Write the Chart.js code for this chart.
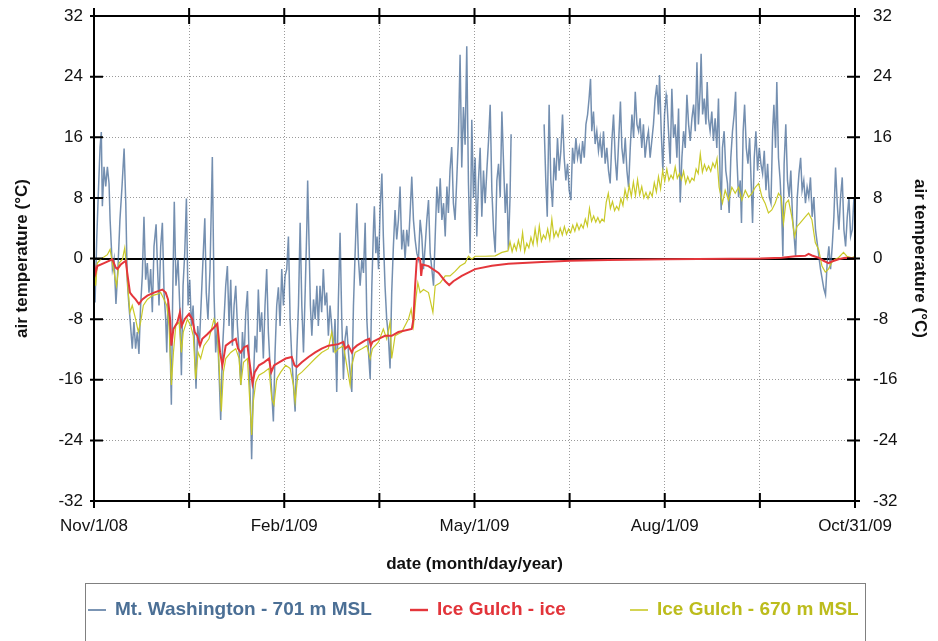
<!DOCTYPE html>
<html>
<head>
<meta charset="utf-8">
<script src="https://cdn.jsdelivr.net/npm/chart.js@4.4.1/dist/chart.umd.min.js"></script>
<style>
    html, body { margin: 0; padding: 0; background: #fff; }
</style>
</head>
<body>
<canvas id="canvas" width="938" height="641"></canvas>
<script>
Chart.defaults.font.family = '"Liberation Sans", Arial, sans-serif';
Chart.defaults.color = '#111';

// x positions are days since Nov/1/08
const tickDays = [0, 45.5, 91, 136.5, 182, 227.5, 273, 318.5, 364];
const tickLabels = ['Nov/1/08', '', 'Feb/1/09', '', 'May/1/09', '', 'Aug/1/09', '', 'Oct/31/09'];
const tempTicks = [-32, -24, -16, -8, 0, 8, 16, 24, 32];

// Mt. Washington - 701 m MSL (gap in late May / early June)
const washDays = [
    0.0, 0.5, 1.3, 1.9, 2.9, 3.5, 4.0, 4.8, 5.6, 6.4, 7.2, 7.7, 8.8, 9.6, 10.5, 11.5, 12.4, 13.4, 14.4, 15.2,
    15.9, 16.7, 17.5, 18.3, 19.1, 19.9, 20.7, 21.5, 22.3, 23.1, 23.9, 24.7, 25.5, 26.3, 27.1, 27.9, 28.7, 29.7, 30.3, 31.1,
    31.9, 32.7, 33.5, 34.3, 34.8, 35.4, 36.2, 37.0, 37.6, 38.4, 39.2, 40.2, 41.0, 41.8, 42.6, 43.4, 44.2, 45.0, 45.8, 46.6,
    47.4, 48.2, 48.8, 49.6, 50.4, 51.2, 52.0, 53.0, 53.7, 54.5, 55.5, 56.6, 57.4, 58.2, 59.0, 59.8, 60.6, 61.4, 62.2, 63.0,
    63.8, 64.6, 65.4, 66.2, 67.0, 67.8, 68.6, 69.4, 70.2, 71.0, 71.8, 72.6, 73.4, 74.2, 75.0, 75.4, 76.2, 77.0, 77.8, 78.6,
    79.4, 80.2, 81.0, 81.8, 82.6, 83.4, 84.2, 85.0, 85.8, 86.6, 87.4, 88.2, 89.0, 89.8, 90.6, 91.4,
    92.2, 93.0, 93.8, 94.6, 95.4, 96.2, 97.0, 97.8, 98.6, 99.4, 100.2, 101.0, 101.8, 102.2, 102.9, 103.5, 104.2, 105.0, 105.8, 106.6,
    107.3, 108.1, 108.9, 109.7, 110.5, 111.3, 112.1, 112.9, 113.7, 114.5, 115.3, 116.1, 116.9, 117.7, 118.5, 119.3, 120.1, 120.9, 121.7, 122.5,
    123.3, 124.1, 124.9, 125.7, 126.5, 127.3, 128.1, 128.9, 129.7, 130.5, 131.3, 132.1, 132.9, 133.7, 134.1, 134.8, 135.4, 136.1, 136.9, 137.7,
    138.4, 139.2, 140.0, 140.8, 141.6, 142.4, 143.2, 144.0, 144.8, 145.6, 146.4, 147.2, 148.0, 148.8, 149.6, 150.4, 151.2, 152.0, 152.8, 153.6,
    154.4, 155.2, 156.0, 156.8, 157.6, 158.4, 159.2, 160.0, 160.8, 161.6, 162.4, 163.2, 164.0, 164.8, 165.6, 166.4, 167.2, 168.0, 168.8, 169.5,
    170.3, 171.1, 171.9, 172.7, 173.5, 174.3, 175.1, 175.9, 176.7, 177.5, 178.3, 179.1, 179.9, 180.7, 181.5, 182.3,
    183.1, 183.9, 184.7, 185.5, 186.3, 187.1, 187.9, 188.7, 189.5, 190.3, 191.1, 191.9, 192.7, 193.5, 194.3, 195.1, 195.9, 196.7, 197.5, 198.2,
    199.0, 199.5, 207.0,
    215.3, 216.1, 216.8, 217.7, 218.5, 219.3, 220.1, 220.9, 221.7, 222.5, 223.3, 224.1, 224.9, 225.7, 226.5, 227.3, 228.1, 228.9, 229.7, 230.5,
    231.3, 232.1, 232.9, 233.7, 234.5, 235.3, 236.1, 236.8, 237.5, 238.1, 238.9, 239.7, 240.5, 241.3, 242.1, 242.9, 243.7, 244.5, 245.3, 246.1,
    246.9, 247.7, 248.5, 249.3, 250.1, 250.9, 251.8, 252.5, 253.3, 254.1, 254.9, 255.7, 256.5, 257.3, 258.1, 258.9, 259.7, 260.5, 261.2, 262.0,
    262.8, 263.6, 264.4, 265.2, 266.0, 266.8, 267.6, 268.4, 269.2, 270.0, 270.5, 271.3, 272.1, 272.9, 273.7,
    274.0, 274.8, 275.6, 276.4, 277.2, 278.0, 278.8, 279.6, 280.4, 281.2, 282.0, 282.8, 283.6, 284.4, 285.2, 286.0, 286.8, 287.6, 288.4, 289.1,
    289.9, 290.4, 291.1, 291.9, 292.7, 293.3, 293.9, 294.7, 295.5, 296.3, 297.1, 297.9, 298.7, 299.5, 300.0, 300.6, 301.4, 302.2, 303.0, 303.8,
    304.6, 305.4, 306.2, 306.9, 307.5, 308.3, 309.1, 309.7, 310.5, 311.2, 312.0, 312.8, 313.6, 314.3, 315.0, 315.8, 316.6, 317.4, 318.2, 319.0,
    319.8, 320.6, 321.4, 322.2, 323.0, 323.8, 324.6, 325.2, 326.0, 326.6, 327.4, 328.2, 329.0, 329.5, 330.1, 330.9, 331.7, 332.5, 333.3, 334.1,
    334.9, 335.6, 336.4, 337.2, 338.0, 338.7, 339.5, 340.3, 341.1, 341.9, 342.7, 343.5, 344.3, 345.1, 345.9, 346.7, 347.5, 348.3, 349.1, 349.9,
    350.7, 351.5, 352.3, 353.1, 353.9, 354.7, 355.5, 356.3, 357.1, 357.9, 358.7, 359.5, 360.3, 361.1, 361.9, 362.7, 363.5, 364.0
];
const washTemps = [
    -0.1, -5.8, 2.5, 7.3, 14.7, 16.7, 6.9, 12.1, 9.5, 12.1, 9.9, 5.1, -1.4, -0.1, -6.0, -1.0, 5.1, 9.5, 14.5, 7.3,
    -2.8, -6.2, -8.9, -11.9, -8.4, -11.9, -9.7, -12.6, -6.2, -2.3, 5.5, -2.8, -0.6, -4.5, -1.4, -7.1, 1.6, 4.5, -0.6, -6.2,
    1.6, 4.7, -4.5, -8.0, -12.4, -5.8, -8.9, -19.3, -5.8, 7.5, -3.6, -0.1, -6.2, -15.4, -3.6, 0.7, 7.9, -6.2, -2.8, -8.9,
    -6.2, -12.4, -17.2, -8.9, -11.5, -6.2, -1.0, 5.3, -4.5, -8.0, -1.4, 13.4, -4.5, -12.4, -8.9, -15.0, -21.3, -12.4, -8.0, -3.6,
    -1.0, -8.9, -2.8, -11.5, -6.2, -3.6, -8.9, -12.4, -16.7, -9.7, -13.2, -7.1, -4.3, -13.2, -21.1, -26.5, -16.7, -10.2, -12.4, -4.1,
    -9.7, -7.1, -13.2, -6.2, -1.4, -9.7, -14.1, -17.6, -21.5, -12.4, -6.2, -3.8, -8.9, -1.4, -6.2, -2.3,
    -1.4, 2.9, -8.0, -13.2, -16.7, -20.2, -12.4, -6.2, 4.7, -6.2, -12.4, -4.5, 4.2, 10.3, 1.6, -6.2, -10.2, -5.4, -8.0, -3.6,
    -8.9, -3.6, -7.1, -1.4, -6.2, -4.5, -10.2, -6.2, -8.9, -12.4, -8.0, -17.6, -5.4, 3.4, -8.0, -15.9, -10.6, -8.9, -12.4, -15.0,
    -17.6, -6.2, 0.7, 7.3, -0.1, -3.6, -0.1, -1.9, 4.7, -8.0, -12.4, -15.9, -3.6, 4.2, 6.9, 0.7, 2.9, -1.4, 6.9, 11.2,
    2.9, -3.6, -8.0, -10.2, -14.5, -4.5, 1.6, 6.4, 2.5, 5.1, 9.5, 1.2, 3.8, -0.1, 3.8, 1.6, 6.0, 10.8, 5.1, 2.5,
    0.7, -0.1, 5.1, 2.9, -1.4, 1.6, 5.1, 7.7, 0.7, -1.4, -3.6, 2.9, 9.5, 6.0, 10.6, 5.1, 7.3, 2.9, 9.5, 6.0,
    11.7, 14.7, 7.3, 5.1, 10.3, 16.0, 26.9, 12.0, 20.0, 15.0, 28.0, 10.0, 0.7, 18.3, 8.0, 13.3,
    2.9, 10.3, 14.6, 5.5, 11.6, 7.3, 11.6, 15.5, 20.3, 9.0, 3.8, 0.8, 10.3, 12.5, 8.1, 19.4, 12.5, 6.0, 9.9, 1.2,
    8.1, 16.4, null,
    17.7, 10.3, 5.5, 20.3, 10.3, 6.8, 13.3, 10.3, 15.9, 11.6, 14.2, 19.0, 13.3, 10.3, 12.5, 9.0, 7.7, 14.6, 12.5, 15.9,
    13.3, 14.6, 12.5, 15.5, 13.3, 17.7, 19.0, 21.1, 23.7, 16.8, 19.4, 15.1, 16.8, 14.2, 15.9, 13.3, 16.8, 12.5, 14.6, 11.6,
    9.9, 15.5, 19.0, 13.3, 10.3, 15.1, 20.7, 14.6, 12.5, 15.9, 11.6, 9.4, 14.6, 19.0, 15.9, 22.0, 17.7, 16.8, 18.5, 14.6,
    17.7, 13.3, 15.5, 16.8, 13.3, 15.5, 17.7, 21.1, 22.9, 19.0, 24.2, 16.8, 11.6, 19.0, 21.6,
    21.1, 16.8, 12.5, 22.4, 15.9, 17.7, 13.3, 19.8, 7.4, 13.3, 16.8, 14.6, 21.6, 17.7, 15.5, 18.5, 20.3, 16.8, 25.9, 17.7,
    22.0, 27.0, 19.0, 21.1, 17.7, 23.3, 18.5, 16.8, 19.4, 15.5, 18.5, 14.6, 21.1, 10.3, 6.4, 14.6, 16.8, 11.6, 9.9, 6.0,
    13.3, 16.8, 19.0, 22.0, 13.3, 8.1, 10.3, 4.7, 16.8, 20.3, 14.6, 12.5, 15.9, 10.3, 4.7, 13.3, 16.8, 11.6, 14.6, 12.5,
    11.2, 14.2, 9.0, 12.5, 8.1, 7.3, 16.8, 20.3, 14.6, 23.3, 13.3, 10.3, 5.5, 0.3, 12.5, 17.7, 10.3, 8.1, 11.6, 5.5,
    2.9, 0.3, 8.1, 11.2, 13.3, 9.0, 10.3, 7.3, 9.4, 8.1, 10.7, 5.5, 8.1, 3.8, 2.1, 0.3, -1.4, -2.7, -4.0, -4.8,
    -0.5, 1.6, -1.4, 1.6, 5.5, 12.0, 7.3, 3.8, 8.1, 10.7, 3.8, 1.6, 5.5, 8.1, 2.9, 3.8, 8.1, 5.5
];

// Ice Gulch - ice
const iceDays = [
    0, 0.8, 1.6, 4.8, 8.8, 10.4, 11.2, 12.8, 15.2, 15.9, 17.2, 18.3, 19.9, 21.5, 23.1, 25.5, 28.7, 32.7, 34.3, 35.4,
    36.4, 37.0, 38.0, 39.9, 41.1, 41.9, 43.4, 45.5, 47.0, 48.2, 49.4, 50.7, 51.8, 54.2, 57.4, 59.0, 60.3, 61.4, 63.0, 65.4,
    67.8, 68.9, 70.2, 71.8, 73.4, 74.6, 75.8, 76.9, 78.9, 81.3, 83.7, 84.8, 86.1, 88.5, 91.7, 94.6, 95.9, 97.0, 99.4, 102.6,
    105.8, 108.9, 112.1, 116.9, 119.3, 120.1, 121.7, 123.3, 124.1, 125.7, 129.7, 131.6, 132.4, 133.2, 136.1, 139.2, 142.4, 145.6, 152.0, 152.8,
    153.6, 154.4, 155.2, 156.0, 156.5, 157.1, 160.0, 164.8, 168.0, 169.9, 171.9, 175.9, 182.3, 190.3, 198.2, 214.2, 227.8, 246.1, 274.0, 318.7,
    329.0, 335.4, 340.2, 341.8, 343.4, 346.6, 349.0, 351.3, 352.9, 356.1, 359.3, 364
];
const iceTemps = [
    -0.6, -1.9, -1.0, -0.6, -0.1, -1.2, -1.4, -0.8, -0.3, -1.9, -4.5, -4.9, -5.4, -6.0, -5.4, -4.9, -4.5, -4.1, -4.5, -5.4,
    -8.0, -11.5, -9.3, -8.4, -7.1, -8.9, -8.0, -7.3, -8.0, -9.7, -10.2, -11.5, -10.6, -10.0, -9.1, -8.6, -12.4, -14.1, -11.5, -11.0,
    -10.6, -11.9, -12.4, -11.7, -11.5, -14.1, -16.5, -15.0, -14.1, -13.7, -13.2, -15.0, -14.1, -13.7, -13.2, -13.0, -14.1, -14.3, -13.7, -13.0,
    -12.4, -11.9, -11.5, -11.3, -11.0, -11.9, -11.5, -12.4, -11.9, -11.5, -10.8, -10.6, -11.5, -11.0, -10.6, -10.2, -10.2, -9.7, -9.3, -8.0,
    -3.6, -0.1, 0.1, -0.1, -2.3, -0.8, -1.0, -1.9, -3.0, -3.5, -3.0, -2.3, -1.4, -0.95, -0.7, -0.45, -0.3, -0.2, -0.1, 0,
    0.1, 0.3, 0.35, 0.6, 0.4, 0.1, -0.3, -0.6, -0.4, -0.1, 0.1, 0
];

// Ice Gulch - 670 m MSL
const gulchDays = [
    0, 0.8, 1.6, 3.2, 6.4, 7.7, 8.8, 9.9, 10.8, 12.0, 13.6, 14.7, 15.5, 16.4, 17.2, 18.3, 19.9, 21.2, 22.3, 23.6,
    25.5, 27.9, 30.3, 31.9, 33.5, 34.8, 35.9, 37.0, 38.0, 39.1, 40.7, 41.8, 42.7, 44.7, 46.3, 47.5, 48.6, 49.8, 51.0, 52.6,
    55.0, 57.4, 59.0, 60.3, 60.9, 61.9, 63.0, 65.4, 67.8, 69.4, 70.2, 71.5, 73.4, 74.6, 75.4, 76.2, 77.4, 78.9, 81.3, 83.7,
    85.0, 86.1, 87.4, 89.3, 91.7,
    93.8, 95.4, 96.2, 97.5, 99.4, 102.6, 105.8, 108.9, 112.1, 113.7, 115.3, 116.9, 119.3, 120.9, 122.5, 123.3, 124.9, 128.1, 130.5, 132.1,
    133.2, 136.1, 138.4, 140.0, 141.6, 142.4, 144.0, 147.2, 150.4, 151.7, 152.8, 153.9, 154.9, 156.0, 157.6, 160.0, 162.1, 163.2, 165.6, 168.0,
    170.3, 172.7, 175.1, 177.5, 179.1, 180.7, 182.3,
    187.1, 191.9, 195.1,
    198, 199, 200, 201, 202, 203, 204, 205, 206, 207, 208, 209, 210, 211, 212, 213, 214, 215, 216, 217,
    218, 219, 220, 221, 222, 223, 224, 225, 226, 227, 228, 229, 230, 231, 232, 233, 234, 235, 236, 237,
    238, 239, 240, 241, 242, 243, 244, 245, 246, 247, 248, 249, 250, 251, 252, 253, 254, 255, 256, 257,
    258, 259, 260, 261, 262, 263, 264, 265, 266, 267, 268, 269, 270, 271, 272, 273, 274, 275, 276, 277,
    278, 279, 280, 281, 282, 283, 284, 285, 286, 287, 288, 289, 290, 291, 292, 293, 294, 295, 296, 297,
    298, 299,
    300.6, 301.9, 303.5, 305.1, 306.7, 308.3, 309.9, 311.5, 313.1, 314.7, 316.3, 317.9, 319.5, 321.0, 322.6, 324.2, 325.8, 327.4, 328.7, 329.8,
    330.9, 332.2, 333.8, 335.1, 336.2, 337.8, 340.2, 341.8, 343.4, 345.0, 346.6, 348.2, 349.8, 351.3, 352.9, 354.5, 356.1, 358.5, 360.1, 362.5,
    364
];
const gulchTemps = [
    -1.0, -3.6, -0.6, -0.1, 0.5, 1.2, -0.6, -2.3, -3.6, -0.6, -0.1, 1.4, -1.0, -4.5, -7.1, -6.2, -8.0, -9.7, -8.4, -6.2,
    -5.4, -4.9, -4.7, -4.5, -5.4, -6.2, -8.9, -16.7, -12.4, -8.9, -8.4, -12.4, -9.7, -8.0, -8.9, -10.2, -15.9, -12.4, -13.2, -11.5,
    -10.6, -8.0, -9.3, -16.7, -20.2, -15.0, -13.2, -12.4, -11.9, -13.2, -16.7, -13.7, -13.2, -19.3, -23.3, -18.9, -16.3, -15.4, -15.0, -14.5,
    -18.5, -19.3, -15.9, -15.0, -14.1,
    -14.5, -16.7, -18.9, -15.4, -15.0, -14.1, -13.2, -12.4, -11.9, -9.7, -12.4, -11.9, -11.5, -14.1, -16.7, -14.1, -12.4, -11.9, -11.5, -13.2,
    -11.9, -11.0, -9.3, -10.6, -8.4, -13.2, -10.2, -9.7, -8.0, -6.7, -8.9, -5.4, -3.2, -4.5, -4.1, -4.5, -7.1, -3.6, -3.2, -2.3,
    -2.3, -1.7, -1.0, -0.6, 0.3, -0.1, 0.3,
    0.3, 0.35, 0.8,
    1.0, 2.2, 0.9, 1.9, 1.1, 2.4, 1.2, 3.4, 0.9, 2.0, 1.4, 2.8, 1.8, 3.9, 2.0, 4.3, 2.3, 3.1, 2.6, 3.9,
    2.5, 5.2, 2.8, 3.6, 2.9, 4.0, 3.1, 4.2, 3.2, 3.9, 3.4, 4.4, 3.6, 4.6, 3.8, 4.5, 4.0, 5.2, 4.3, 6.6,
    4.9, 5.6, 4.8, 5.4, 4.7, 5.2, 4.9, 7.4, 8.6, 6.6, 7.5, 6.3, 6.9, 6.4, 7.9, 7.0, 9.1, 7.9, 9.6, 8.2,
    10.1, 8.3, 10.4, 8.4, 9.5, 8.0, 8.7, 7.9, 8.8, 8.2, 10.0, 8.8, 10.8, 9.2, 11.6, 10.2, 11.8, 10.3, 11.0, 10.5,
    12.1, 10.6, 11.2, 10.4, 11.5, 9.9, 10.8, 10.0, 10.6, 10.3, 11.8, 11.2, 13.8, 11.4, 12.4, 11.6, 12.2, 11.5, 12.6, 12.0,
    13.2, 9.4,
    7.3, 9.0, 7.7, 9.4, 8.6, 9.4, 7.7, 9.0, 8.1, 8.6, 9.4, 9.9, 8.1, 7.3, 6.0, 6.4, 7.3, 8.6, 8.1, 4.7,
    7.3, 7.7, 5.5, 2.9, 4.2, 4.7, 5.5, 6.0, 5.1, 2.1, 1.2, -1.0, -1.8, -1.4, -0.5, -0.1, 0.1, 0.8, 0.3, 0.1,
    0.3
];

const seriesLabels = ['Mt. Washington - 701 m MSL', 'Ice Gulch - ice', 'Ice Gulch - 670 m MSL'];
const lineColors = ['rgba(62, 100, 145, 0.72)', '#e4363b', '#c9c928'];
const textColors = ['#4b6f95', '#e2343a', '#bcbc1c'];
const legendX = [88, 410, 630];

function toPoints(days, temps) {
    return days.map((d, i) => ({ x: d, y: temps[i] }));
}

const isZero = ctx => ctx.tick !== undefined && ctx.tick.value === 0;

// plot frame plus tick marks that cross the frame on all four sides
const framePlugin = {
    id: 'frame',
    afterDraw(chart) {
        const { ctx, chartArea: a, scales } = chart;
        ctx.save();
        ctx.strokeStyle = '#000';
        ctx.lineWidth = 2;
        ctx.strokeRect(a.left, a.top, a.right - a.left, a.bottom - a.top);
        ctx.beginPath();
        scales.x.ticks.forEach(t => {
            const px = scales.x.getPixelForValue(t.value);
            ctx.moveTo(px, a.bottom - 8);
            ctx.lineTo(px, a.bottom + 7);
            ctx.moveTo(px, a.top - 8);
            ctx.lineTo(px, a.top + 8);
        });
        scales.y.ticks.forEach(t => {
            const py = scales.y.getPixelForValue(t.value);
            ctx.moveTo(a.left - 4, py);
            ctx.lineTo(a.left + 9, py);
            ctx.moveTo(a.right - 8, py);
            ctx.lineTo(a.right + 5, py);
        });
        ctx.stroke();
        ctx.restore();
    }
};

const legendPlugin = {
    id: 'boxLegend',
    afterDraw(chart) {
        const { ctx, chartArea: a } = chart;
        const top = a.bottom + 82;
        ctx.save();
        ctx.strokeStyle = '#808080';
        ctx.lineWidth = 1;
        ctx.strokeRect(Math.round(a.left - 9) + 0.5, Math.round(top) + 0.5, a.right - a.left + 19, 90);
        ctx.font = 'bold 19px "Liberation Sans", Arial, sans-serif';
        ctx.textBaseline = 'middle';
        chart.data.datasets.forEach((ds, i) => {
            const x = legendX[i];
            const y = top + 27;
            ctx.strokeStyle = ds.borderColor;
            ctx.lineWidth = ds.borderWidth + 0.4;
            ctx.beginPath();
            ctx.moveTo(x, y);
            ctx.lineTo(x + 18, y);
            ctx.stroke();
            ctx.fillStyle = textColors[i];
            ctx.fillText(ds.label, x + 27, y);
        });
        ctx.restore();
    }
};

const tempAxis = (position, labelPad, titlePad, width) => ({
    position: position,
    min: -32,
    max: 32,
    afterBuildTicks: scale => { scale.ticks = tempTicks.map(v => ({ value: v })); },
    afterFit: scale => {
        scale.width = width;
        // the end labels may overhang the plot, do not reserve room for them
        scale.paddingTop = 0;
        scale.paddingBottom = 0;
    },
    ticks: { padding: labelPad, font: { size: 17 }, color: '#111' },
    grid: {
        display: position === 'left',
        drawTicks: false,
        color: ctx => isZero(ctx) ? '#000' : '#9a9a9a',
        lineWidth: ctx => isZero(ctx) ? 2 : 1
    },
    border: { display: false, dash: ctx => isZero(ctx) ? [] : [1, 2] },
    title: {
        display: true,
        text: 'air temperature (°C)',
        font: { size: 17, weight: 'bold' },
        color: '#111',
        padding: { top: titlePad, bottom: 0 }
    }
});

const config = {
    type: 'line',
    data: {
        datasets: [
            { label: seriesLabels[0], data: toPoints(washDays, washTemps), borderColor: lineColors[0], borderWidth: 1.5, order: 3 },
            { label: seriesLabels[1], data: toPoints(iceDays, iceTemps), borderColor: lineColors[1], borderWidth: 2, order: 1 },
            { label: seriesLabels[2], data: toPoints(gulchDays, gulchTemps), borderColor: lineColors[2], borderWidth: 1.2, order: 2 }
        ]
    },
    options: {
        responsive: false,
        animation: false,
        devicePixelRatio: 1,
        spanGaps: false,
        elements: { point: { radius: 0 }, line: { tension: 0 } },
        layout: { padding: { top: 16, left: 0, right: 0, bottom: 66 } },
        plugins: { legend: { display: false }, tooltip: { enabled: false } },
        scales: {
            x: {
                type: 'linear',
                min: 0,
                max: 364,
                afterBuildTicks: scale => { scale.ticks = tickDays.map(v => ({ value: v })); },
                afterFit: scale => { scale.height = 74; },
                ticks: {
                    autoSkip: false,
                    maxRotation: 0,
                    padding: 15,
                    font: { size: 17 },
                    color: '#111',
                    callback: (value, index) => tickLabels[index]
                },
                grid: { drawTicks: false, color: '#9a9a9a', lineWidth: 1 },
                border: { display: false, dash: [1, 2] },
                title: {
                    display: true,
                    text: 'date (month/day/year)',
                    font: { size: 17, weight: 'bold' },
                    color: '#111',
                    padding: { top: 0, bottom: 0 }
                }
            },
            y: tempAxis('left', 11, 12, 94),
            y2: tempAxis('right', 18, 8, 83)
        }
    },
    plugins: [framePlugin, legendPlugin]
};

const ctx = document.getElementById('canvas');
const chart = new Chart(ctx, config);
</script>
</body>
</html>
